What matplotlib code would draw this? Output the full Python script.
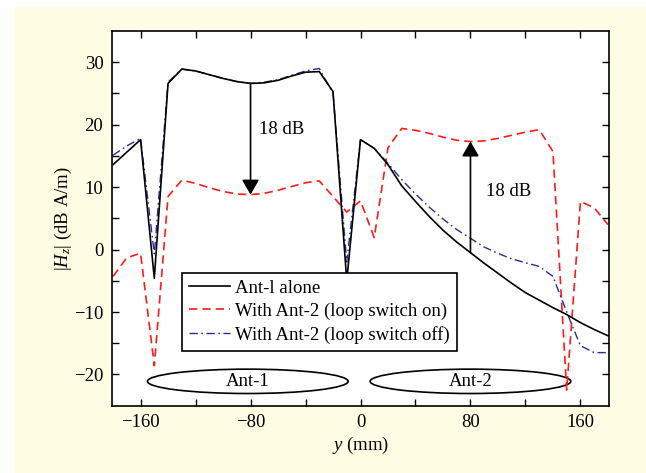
#!/usr/bin/env python
"""|Hz| along the y axis for Ant-1 alone and with Ant-2 present."""

import numpy as np
import matplotlib

matplotlib.use("Agg")
import matplotlib.pyplot as plt
from matplotlib.patches import Ellipse, Rectangle

plt.rcParams["font.family"] = ["Liberation Serif", "DejaVu Serif"]
plt.rcParams["mathtext.fontset"] = "custom"
plt.rcParams["mathtext.rm"] = "Liberation Serif"
plt.rcParams["mathtext.it"] = "Liberation Serif:italic"
FS = 13.5
plt.rcParams["font.size"] = FS

# sample positions (mm)
y_mm = np.arange(-180, 181, 10)

h_alone = [
    13.6, 15.6, 17.6, -4.6, 26.6, 28.9, 28.6, 28.0, 27.4, 26.9,
    26.6, 26.7, 27.1, 27.8, 28.4, 28.5, 25.3, -5.0, 17.6, 16.2,
    13.6, 10.2, 7.7, 5.3, 3.1, 1.2, -0.5, -2.2, -3.8, -5.4,
    -6.9, -8.1, -9.3, -10.4, -11.7, -12.8, -13.8,
]
h_switch_on = [
    -4.3, -1.3, -0.6, -18.6, 8.5, 11.1, 10.6, 9.9, 9.3, 8.9,
    8.8, 9.0, 9.5, 10.1, 10.7, 11.0, 8.5, 6.0, 7.8, 1.9,
    16.3, 19.4, 19.1, 18.6, 18.0, 17.5, 17.3, 17.4, 17.8, 18.3,
    18.8, 19.2, 15.7, -22.5, 7.7, 6.7, 4.0,
]
h_switch_off = [
    15.1, 16.6, 17.8, -0.7, 26.8, 28.9, 28.6, 28.0, 27.4, 26.9,
    26.6, 26.8, 27.2, 27.9, 28.6, 29.0, 25.0, -2.0, 17.6, 16.2,
    13.8, 11.2, 8.9, 6.8, 4.9, 3.2, 1.8, 0.4, -0.6, -1.5,
    -2.1, -2.7, -4.3, -10.0, -15.4, -16.5, -16.5,
]

labels = [
    "Ant-l alone",
    "With Ant-2 (loop switch on)",
    "With Ant-2 (loop switch off)",
]
ant_names = ["Ant-1", "Ant-2"]
ant_centers = [-82, 80]
gap_positions = [-80, 80]
gap_text_xy = [(-74, 19.2), (91, 9.3)]

fig = plt.figure(figsize=(6.46, 4.73), dpi=100, facecolor="white")
# cream panel behind the plot
fig.patches.append(Rectangle((14 / 646, 0), 1, 1 - 7 / 473, transform=fig.transFigure,
                             facecolor="#FFFDE4", edgecolor="none", zorder=-10))

ax = fig.add_axes([0.1729, 0.1423, 0.7703, 0.7922])
ax.set_facecolor("white")

ax.plot(y_mm, h_alone, color="black", lw=1.2, label=labels[0], zorder=3)
ax.plot(y_mm, h_switch_on, color="#FF1A1A", lw=1.2, ls=(0, (5, 3)), label=labels[1], zorder=2)
ax.plot(y_mm, h_switch_off, color="#2B2B9A", lw=1.0, ls=(0, (6, 2.5, 1.2, 2.5)),
        label=labels[2], zorder=2)

# 18 dB arrows: from Ant-1 alone to the loop-switch-on curve
for xp, txt_xy in zip(gap_positions, gap_text_xy):
    i = int(np.where(y_mm == xp)[0][0])
    ax.annotate("", xy=(xp, h_switch_on[i]), xytext=(xp, h_alone[i]),
                arrowprops=dict(arrowstyle="-|>,head_length=0.45,head_width=0.26",
                                mutation_scale=20, color="black", lw=1.2,
                                shrinkA=0, shrinkB=0), zorder=4)
    ax.text(txt_xy[0], txt_xy[1], "18 dB", ha="left", va="center", fontsize=FS)

# antenna outlines
for name, cx in zip(ant_names, ant_centers):
    ax.add_patch(Ellipse((cx, -21.1), 146, 3.9, facecolor="none", edgecolor="black", lw=1.2))
    ax.text(cx, -21.1, name, ha="center", va="center", fontsize=FS)

ax.set_xlim(-181, 181)
ax.set_ylim(-25, 35)
ax.set_xticks([-160, -80, 0, 80, 160])
ax.set_xticks([-120, -40, 40, 120], minor=True)
ax.set_yticks([-20, -10, 0, 10, 20, 30])
ax.set_yticks([-15, -5, 5, 15, 25], minor=True)
ax.tick_params(which="both", direction="in", top=True, right=True, length=5, width=1.0,
               labelsize=FS, pad=6)
for s in ax.spines.values():
    s.set_linewidth(1.2)

ax.set_xlabel(r"$y$ (mm)", fontsize=FS, labelpad=3)
ax.set_ylabel(r"$|H_z|$ (dB A/m)", fontsize=FS, labelpad=0)

leg = ax.legend(loc="lower left", bbox_to_anchor=(0.1407, 0.1468), borderaxespad=0,
                fancybox=False, edgecolor="black", framealpha=1, fontsize=FS,
                handlelength=2.2, handletextpad=0.25, labelspacing=0.3, borderpad=0.38)
leg.get_frame().set_linewidth(1.2)
leg.set_zorder(5)

fig.savefig("out.png", dpi=100, facecolor=fig.get_facecolor())
